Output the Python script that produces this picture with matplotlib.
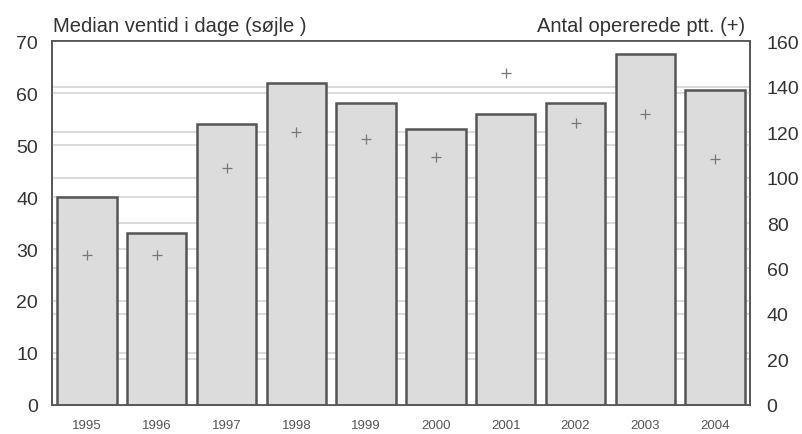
import matplotlib
matplotlib.use("Agg")
import matplotlib.pyplot as plt
import matplotlib.transforms as mtransforms

# Data
years = ["1995", "1996", "1997", "1998", "1999", "2000", "2001", "2002", "2003", "2004"]
median_wait = [40, 33, 54, 62, 58, 53, 56, 58, 67.5, 60.5]          # days (bars, left axis)
operated = [66, 66, 104, 120, 117, 109, 146, 124, 128, 108]          # patients (+, right axis)
left_ticks = [0, 10, 20, 30, 40, 50, 60, 70]
right_ticks = [0, 20, 40, 60, 80, 100, 120, 140, 160]

plt.rcParams['font.family'] = ['Liberation Sans', 'DejaVu Sans']

fig = plt.figure(figsize=(8.03, 4.35), dpi=100)
ax = fig.add_axes([0.0648, 0.0667, 0.8692, 0.8367])
ax2 = ax.twinx()

# right axis sits underneath, only for its grid + tick labels
ax.set_zorder(ax2.get_zorder() + 1)
ax.patch.set_visible(False)
ax2.patch.set_facecolor("white")

grid_col = "#d4d4d4"
ax2.set_ylim(0, 160)
ax2.set_yticks(right_ticks)
ax2.grid(True, axis="y", color=grid_col, linewidth=1.2)

ax.set_ylim(0, 70)
ax.set_xlim(-0.5, len(years) - 0.5)
ax.set_yticks(left_ticks)
ax.set_axisbelow(True)
ax.grid(True, axis="y", color=grid_col, linewidth=1.2)

x = list(range(len(years)))
ax.bar(x, median_wait, width=0.85, color="#dcdcdc", edgecolor="#555555", linewidth=1.8, zorder=2)

# pluses: x from left axes, y in right axis units
trans = mtransforms.blended_transform_factory(ax.transData, ax2.transData)
ax.plot(x, operated, '+', color="#777777", markersize=7, markeredgewidth=0.9,
        transform=trans, zorder=3)

ax.set_xticks(x)
ax.set_xticklabels(years, fontsize=9.5, color="#555555")
for a in (ax, ax2):
    a.tick_params(length=0)
    for s in a.spines.values():
        s.set_color("#555555")
        s.set_linewidth(1.2)
ax.tick_params(axis="y", labelsize=14, colors="#333333", pad=10)
ax2.tick_params(axis="y", labelsize=14, colors="#333333", pad=12)
ax.tick_params(axis="x", pad=10)

fig.text(0.066, 0.918, "Median ventid i dage (søjle )", fontsize=14.5, color="#333333",
         ha="left", va="bottom")
fig.text(0.928, 0.918, "Antal opererede ptt. (+)", fontsize=14.5, color="#333333",
         ha="right", va="bottom")

fig.savefig("out.png", dpi=100)
